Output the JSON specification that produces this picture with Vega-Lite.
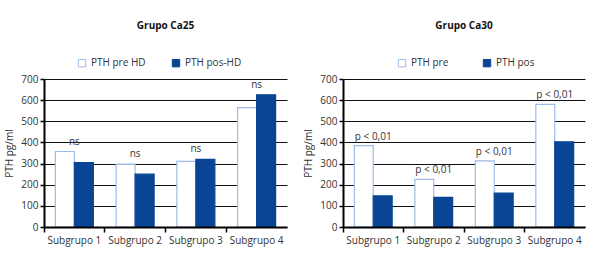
{
  "$schema": "https://vega.github.io/schema/vega-lite/v6.json",
  "padding": {"left": 4, "top": 21, "right": 4, "bottom": 4},
  "spacing": 16,
  "config": {
    "font": "Open Sans",
    "view": {"stroke": null},
    "scale": {"offsetBandPaddingInner": 0, "offsetBandPaddingOuter": 0.6},
    "title": {"fontSize": 10, "fontWeight": "bold", "color": "#111", "offset": 27, "frame": "group", "anchor": "middle"},
    "axis": {
      "labelFont": "Open Sans", "labelFontSize": 10, "labelColor": "#333",
      "titleFont": "Open Sans", "titleFontSize": 10, "titleFontWeight": "normal", "titleColor": "#333"
    },
    "legend": {"labelFontSize": 10, "labelColor": "#333", "symbolType": "square", "symbolSize": 55, "symbolStrokeWidth": 1, "padding": 0}
  },
  "hconcat": [
    {
      "title": "Grupo Ca25",
      "width": 243,
      "height": 148,
      "encoding": {
        "x": {"field": "grupo", "type": "nominal", "title": null, "scale": {"type": "band", "paddingInner": 0, "paddingOuter": 0},
              "axis": {"bandPosition": 0, "labelAngle": 0, "grid": false, "domain": true, "domainColor": "#000", "domainWidth": 2, "ticks": true, "tickColor": "#000", "tickWidth": 1.5, "tickSize": 5, "labelPadding": 3, "zindex": 1}},
        "y": {"field": "valor", "type": "quantitative", "title": "PTH pg/ml", "scale": {"domain": [0, 700]},
              "axis": {"values": [0, 100, 200, 300, 400, 500, 600, 700], "grid": true, "gridColor": "#111", "gridOpacity": 1, "gridWidth": 1, "domain": true, "domainColor": "#000", "domainWidth": 2, "ticks": true, "tickColor": "#000", "tickWidth": 1.5, "tickSize": 4, "labelPadding": 2, "titlePadding": 6}}
      },
      "layer": [
        {
          "data": {"values": [
            {"grupo": "Subgrupo 1", "serie": "PTH pre HD", "valor": 357},
            {"grupo": "Subgrupo 1", "serie": "PTH pos-HD", "valor": 305},
            {"grupo": "Subgrupo 2", "serie": "PTH pre HD", "valor": 297},
            {"grupo": "Subgrupo 2", "serie": "PTH pos-HD", "valor": 250},
            {"grupo": "Subgrupo 3", "serie": "PTH pre HD", "valor": 310},
            {"grupo": "Subgrupo 3", "serie": "PTH pos-HD", "valor": 320},
            {"grupo": "Subgrupo 4", "serie": "PTH pre HD", "valor": 565},
            {"grupo": "Subgrupo 4", "serie": "PTH pos-HD", "valor": 625}
          ]},
          "mark": {"type": "bar", "strokeWidth": 1.2},
          "encoding": {
            "xOffset": {"field": "serie", "type": "nominal", "sort": ["PTH pre HD", "PTH pos-HD"]},
            "fill": {"field": "serie", "type": "nominal", "scale": {"domain": ["PTH pre HD", "PTH pos-HD"], "range": ["#ffffff", "#0a4595"]},
                     "legend": {"title": null, "orient": "none", "legendX": 33, "legendY": -21, "direction": "horizontal", "columnPadding": 24}},
            "stroke": {"field": "serie", "type": "nominal", "scale": {"domain": ["PTH pre HD", "PTH pos-HD"], "range": ["#9dbde6", "#0a4595"]}, "legend": null}
          }
        },
        {
          "data": {"values": [
            {"grupo": "Subgrupo 1", "valor": 357, "texto": "ns"},
            {"grupo": "Subgrupo 2", "valor": 297, "texto": "ns"},
            {"grupo": "Subgrupo 3", "valor": 320, "texto": "ns"},
            {"grupo": "Subgrupo 4", "valor": 625, "texto": "ns"}
          ]},
          "mark": {"type": "text", "dy": -10, "fontSize": 10, "color": "#333", "baseline": "middle"},
          "encoding": {"text": {"field": "texto"}}
        }
      ]
    },
    {
      "title": "Grupo Ca30",
      "width": 242,
      "height": 148,
      "encoding": {
        "x": {"field": "grupo", "type": "nominal", "title": null, "scale": {"type": "band", "paddingInner": 0, "paddingOuter": 0},
              "axis": {"bandPosition": 0, "labelAngle": 0, "grid": false, "domain": true, "domainColor": "#000", "domainWidth": 2, "ticks": true, "tickColor": "#000", "tickWidth": 1.5, "tickSize": 5, "labelPadding": 3, "zindex": 1}},
        "y": {"field": "valor", "type": "quantitative", "title": "PTH pg/ml", "scale": {"domain": [0, 700]},
              "axis": {"values": [0, 100, 200, 300, 400, 500, 600, 700], "grid": true, "gridColor": "#111", "gridOpacity": 1, "gridWidth": 1, "domain": true, "domainColor": "#000", "domainWidth": 2, "ticks": true, "tickColor": "#000", "tickWidth": 1.5, "tickSize": 4, "labelPadding": 2, "titlePadding": 6}}
      },
      "layer": [
        {
          "data": {"values": [
            {"grupo": "Subgrupo 1", "serie": "PTH pre", "valor": 385},
            {"grupo": "Subgrupo 1", "serie": "PTH pos", "valor": 147},
            {"grupo": "Subgrupo 2", "serie": "PTH pre", "valor": 225},
            {"grupo": "Subgrupo 2", "serie": "PTH pos", "valor": 140},
            {"grupo": "Subgrupo 3", "serie": "PTH pre", "valor": 313},
            {"grupo": "Subgrupo 3", "serie": "PTH pos", "valor": 160},
            {"grupo": "Subgrupo 4", "serie": "PTH pre", "valor": 580},
            {"grupo": "Subgrupo 4", "serie": "PTH pos", "valor": 403}
          ]},
          "mark": {"type": "bar", "strokeWidth": 1.2},
          "encoding": {
            "xOffset": {"field": "serie", "type": "nominal", "sort": ["PTH pre", "PTH pos"]},
            "fill": {"field": "serie", "type": "nominal", "scale": {"domain": ["PTH pre", "PTH pos"], "range": ["#ffffff", "#0a4595"]},
                     "legend": {"title": null, "orient": "none", "legendX": 54, "legendY": -21, "direction": "horizontal", "columnPadding": 32}},
            "stroke": {"field": "serie", "type": "nominal", "scale": {"domain": ["PTH pre", "PTH pos"], "range": ["#9dbde6", "#0a4595"]}, "legend": null}
          }
        },
        {
          "data": {"values": [
            {"grupo": "Subgrupo 1", "valor": 385, "texto": "p < 0,01"},
            {"grupo": "Subgrupo 2", "valor": 225, "texto": "p < 0,01"},
            {"grupo": "Subgrupo 3", "valor": 313, "texto": "p < 0,01"},
            {"grupo": "Subgrupo 4", "valor": 580, "texto": "p < 0,01"}
          ]},
          "mark": {"type": "text", "dy": -9, "fontSize": 10, "color": "#333", "baseline": "middle"},
          "encoding": {"text": {"field": "texto"}}
        }
      ]
    }
  ],
  "resolve": {"scale": {"fill": "independent", "stroke": "independent", "xOffset": "independent", "x": "independent", "y": "independent"}, "legend": {"fill": "independent"}, "axis": {"x": "independent", "y": "independent"}}
}
